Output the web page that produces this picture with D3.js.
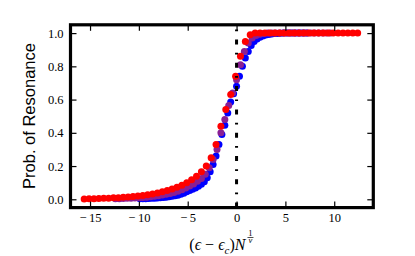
<!DOCTYPE html>
<html>
<head>
<meta charset="utf-8">
<script src="https://cdn.jsdelivr.net/npm/d3@7"></script>
<style>
  body { margin: 0; background: #fff; }
  svg { display: block; }
</style>
</head>
<body>
<div id="chart-area"></div>
<script>
// SVG size
var width = 415,
	height = 256;

// tick labels
var xTicks = [-15, -10, -5, 0, 5, 10];
var yTicks = [0, 0.2, 0.4, 0.6, 0.8, 1.0];

// series 1 (blue)
var blueX = [-9.9,-9.6,-9.3,-9.0,-8.7,-8.4,-8.1,-7.8,-7.5,-7.2,-6.9,-6.6,-6.3,-6.0,-5.7,-5.4,-5.1,-4.8,-4.5,-4.2,
	-3.9,-3.6,-3.3,-3.0,-2.7,-2.4,-2.1,-1.8,-1.5,-1.2,-0.9,-0.6,-0.3,0.0,0.3,0.6,0.9,1.2,1.5,1.8,
	2.1,2.4,2.7,3.0,3.3,3.6,3.9,4.2,4.5,4.8,5.1,5.4,5.7,6.0,6.3,6.6,6.9,7.2];
var blueY = [0.003,0.004,0.004,0.005,0.006,0.007,0.008,0.009,0.011,0.013,0.015,0.018,0.021,0.025,0.030,0.036,0.046,0.053,0.060,0.068,
	0.078,0.090,0.106,0.130,0.165,0.210,0.260,0.330,0.390,0.445,0.520,0.585,0.635,0.680,0.740,0.800,0.850,0.890,0.925,0.950,
	0.965,0.975,0.983,0.988,0.992,0.995,0.997,0.998,0.999,1.0,1.0,1.0,1.0,1.0,1.0,1.0,1.0,1.0];

// series 2 (purple)
var purpleX = [-12.4,-12.0,-11.6,-11.2,-10.8,-10.4,-10.0,-9.6,-9.2,-8.8,-8.4,-8.0,-7.6,-7.2,-6.8,-6.4,-6.0,-5.6,-5.2,-4.8,
	-4.4,-4.0,-3.6,-3.2,-2.8,-2.4,-2.0,-1.6,-1.2,-0.8,-0.4,0.0,0.4,0.8,1.2,1.6,2.0,2.4,2.8,3.2,
	3.6,4.0,4.4,4.8,5.2,5.6,6.0,6.4,6.8,7.2,7.6,8.0,8.4,8.8,9.2,9.6];
var purpleY = [0.004,0.004,0.005,0.006,0.007,0.008,0.010,0.011,0.013,0.015,0.018,0.022,0.026,0.030,0.035,0.041,0.048,0.057,0.068,0.080,
	0.092,0.108,0.125,0.150,0.190,0.240,0.300,0.400,0.480,0.565,0.640,0.720,0.810,0.890,0.940,0.970,0.985,0.993,0.997,1.0,
	1.0,1.0,1.0,1.0,1.0,1.0,1.0,1.0,1.0,1.0,1.0,1.0,1.0,1.0,1.0,1.0];

// series 3 (red)
var redX = [-15.6,-15.1,-14.6,-14.1,-13.6,-13.1,-12.6,-12.1,-11.6,-11.1,-10.6,-10.1,-9.6,-9.1,-8.6,-8.1,-7.6,-7.1,-6.6,-6.1,
	-5.6,-5.1,-4.6,-4.1,-3.6,-3.1,-2.6,-2.1,-1.6,-1.1,-0.6,-0.1,0.4,0.9,1.4,1.9,2.4,2.9,3.4,3.9,
	4.4,4.9,5.4,5.9,6.4,6.9,7.4,7.9,8.4,8.9,9.4,9.9,10.4,10.9,11.4,11.9,12.4];
var redY = [0.002,0.003,0.004,0.005,0.006,0.007,0.009,0.010,0.012,0.014,0.017,0.020,0.023,0.027,0.032,0.038,0.045,0.053,0.062,0.073,
	0.085,0.100,0.117,0.138,0.165,0.200,0.250,0.330,0.440,0.540,0.630,0.740,0.860,0.950,0.990,1.0,1.0,1.0,1.0,1.0,
	1.0,1.0,1.0,1.0,1.0,1.0,1.0,1.0,1.0,1.0,1.0,1.0,1.0,1.0,1.0,1.0,1.0];

var series = [
	{ xs: blueX, ys: blueY, color: "#0000ff" },
	{ xs: purpleX, ys: purpleY, color: "#8a1f94" },
	{ xs: redX, ys: redY, color: "#ff0000" }
];

// axes box
var boxLeft = 70.5, boxRight = 373.3, boxTop = 24.8, boxBottom = 207.6;

var x = d3.scaleLinear().domain([-17, 14]).range([boxLeft, boxRight]);
var y = d3.scaleLinear().domain([-0.05, 1.05]).range([boxBottom, boxTop]);

var svg = d3.select('#chart-area')
	.append("svg")
	.attr("width", width)
	.attr("height", height);

// points
series.forEach(function(s) {
	var pts = s.xs.map(function(v, i) { return [v, s.ys[i]]; });
	svg.append("g")
		.selectAll("circle")
		.data(pts)
		.enter()
		.append("circle")
		.attr("cx", function(d) { return x(d[0]); })
		.attr("cy", function(d) { return y(d[1]); })
		.attr("r", 3.5)
		.attr("fill", s.color);
});

// critical line at 0 (dash-dot), drawn bottom to top
svg.append("path")
	.attr("d", "M" + x(0) + "," + boxBottom + "V" + boxTop)
	.attr("stroke", "#000")
	.attr("stroke-width", 3)
	.attr("stroke-dasharray", "5,8.3,1.7,8.3")
	.attr("fill", "none");

var minus = function(d) { return d < 0 ? "\u2212\u2009" + Math.abs(d) : "" + d; };

// bottom axis
var xAxis = d3.axisBottom(x).tickValues(xTicks).tickSize(-6).tickPadding(5.5).tickFormat(minus);
svg.append("g")
	.attr("class", "axis")
	.attr("transform", "translate(0," + boxBottom + ")")
	.call(xAxis);

// top axis (ticks only)
svg.append("g")
	.attr("class", "axis notext")
	.attr("transform", "translate(0," + boxTop + ")")
	.call(d3.axisTop(x).tickValues(xTicks).tickSize(-6));

// left axis
var yAxis = d3.axisLeft(y).tickValues(yTicks).tickSize(-6).tickPadding(7).tickFormat(d3.format(".1f"));
svg.append("g")
	.attr("class", "axis")
	.attr("transform", "translate(" + boxLeft + ",0)")
	.call(yAxis);

// right axis (ticks only)
svg.append("g")
	.attr("class", "axis notext")
	.attr("transform", "translate(" + boxRight + ",0)")
	.call(d3.axisRight(y).tickValues(yTicks).tickSize(-6));

svg.selectAll(".axis .domain").remove();
svg.selectAll(".notext text").remove();
svg.selectAll(".axis line").attr("stroke", "#000").attr("stroke-width", 1.2);
svg.selectAll(".axis text")
	.attr("fill", "#000")
	.style("font-family", "'Liberation Serif', 'DejaVu Serif', serif")
	.style("font-size", "12.5px");

// spines
svg.append("rect")
	.attr("x", boxLeft)
	.attr("y", boxTop)
	.attr("width", boxRight - boxLeft)
	.attr("height", boxBottom - boxTop)
	.attr("fill", "none")
	.attr("stroke", "#000")
	.attr("stroke-width", 3.2);

// y label
svg.append("text")
	.attr("transform", "translate(35,116) rotate(-90)")
	.attr("text-anchor", "middle")
	.style("font-family", "'Liberation Sans', Arial, sans-serif")
	.style("font-size", "16.5px")
	.text("Prob. of Resonance");

// x label: (eps - eps_c) N^{1/nu}
var xl = svg.append("g");
var t = xl.append("text")
	.attr("x", 0)
	.attr("y", 0)
	.style("font-family", "'Liberation Serif', 'DejaVu Serif', serif")
	.style("font-size", "16px");
t.append("tspan").text("(");
t.append("tspan").style("font-style", "italic").text("\u03f5");
t.append("tspan").text(" \u2212 ");
t.append("tspan").style("font-style", "italic").text("\u03f5");
t.append("tspan").style("font-style", "italic").style("font-size", "11px").attr("dy", 3.5).text("c");
t.append("tspan").attr("dy", -3.5).text(")");
t.append("tspan").style("font-style", "italic").text("N");
var tw = t.node().getComputedTextLength();
var fx = tw + 5;
xl.append("text")
	.attr("x", fx).attr("y", -14)
	.attr("text-anchor", "middle")
	.style("font-family", "'Liberation Serif', serif")
	.style("font-size", "8.5px")
	.text("1");
xl.append("line")
	.attr("x1", fx - 3).attr("x2", fx + 3)
	.attr("y1", -12.5).attr("y2", -12.5)
	.attr("stroke", "#000").attr("stroke-width", 0.7);
xl.append("text")
	.attr("x", fx).attr("y", -7.3)
	.attr("text-anchor", "middle")
	.style("font-family", "'Liberation Serif', serif")
	.style("font-style", "italic")
	.style("font-size", "8.5px")
	.text("\u03bd");
var totalW = fx + 4;
xl.attr("transform", "translate(" + ((boxLeft + boxRight) / 2 - totalW / 2) + ",250)");
</script>
</body>
</html>
